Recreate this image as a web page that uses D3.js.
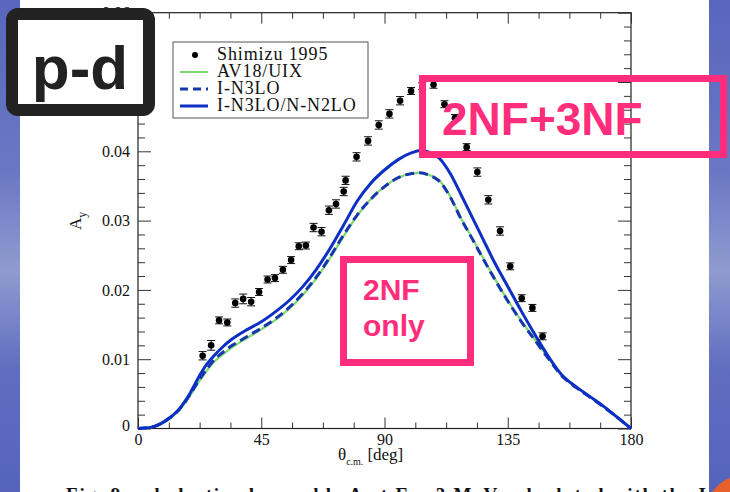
<!DOCTYPE html>
<html>
<head>
<meta charset="utf-8">
<script src="https://cdn.jsdelivr.net/npm/d3@7"></script>
<style>
  body { margin: 0; background: #fff; }
  svg { display: block; }
  .tick text { font-family: "Liberation Serif", "Times New Roman", serif; font-size: 16px; fill: #111; }
  .domain { display: none; }
</style>
</head>
<body>
<div id="chart"></div>
<script>
// Shimizu 1995 data points (theta in deg, A_y, error)
var shimizuTheta = [23.6, 26.7, 29.6, 32.6, 35.5, 38.4, 41.3, 44.2, 47.3, 50.0, 52.9, 55.9, 58.7, 61.3, 64.1, 67.0, 69.7, 72.3, 75.1, 75.8, 79.8, 84.0, 87.9, 91.8, 95.7, 99.7, 103.8, 107.9, 111.9, 115.7, 120.0, 123.9, 127.9, 132.2, 135.9, 140.1, 144.0, 147.7];
var shimizuAy    = [0.0105, 0.0120, 0.0156, 0.0153, 0.0181, 0.0187, 0.0183, 0.0197, 0.0215, 0.0217, 0.0229, 0.0243, 0.0263, 0.0264, 0.0290, 0.0284, 0.0315, 0.0324, 0.0342, 0.0358, 0.0392, 0.0415, 0.0438, 0.0454, 0.0473, 0.0487, 0.0494, 0.0496, 0.0468, 0.0448, 0.0406, 0.0370, 0.0330, 0.0285, 0.0234, 0.0188, 0.0174, 0.0133];
var shimizuErr   = [0.0006, 0.0007, 0.0005, 0.0005, 0.0006, 0.0007, 0.0006, 0.0005, 0.0005, 0.0005, 0.0005, 0.0005, 0.0005, 0.0005, 0.0006, 0.0006, 0.0006, 0.0006, 0.0006, 0.0006, 0.0006, 0.0006, 0.0006, 0.0006, 0.0006, 0.0005, 0.0005, 0.0005, 0.0005, 0.0005, 0.0005, 0.0006, 0.0006, 0.0006, 0.0005, 0.0005, 0.0005, 0.0005];

// theory curves
var curveTheta = [0, 5, 10, 15, 19, 22, 25, 28, 31, 34, 37, 40, 45, 50, 55, 60, 65, 70, 75, 80, 85, 90, 95, 100, 103, 106, 110, 114, 118, 122, 126, 130, 135, 140, 145, 150, 155, 160, 165, 170, 175, 180];
var ayN3loN2lo = [0, 0.0002, 0.0011, 0.0028, 0.0051, 0.0073, 0.0092, 0.0106, 0.0118, 0.0128, 0.0136, 0.0143, 0.0154, 0.0168, 0.0184, 0.0204, 0.0229, 0.0259, 0.0293, 0.0328, 0.0354, 0.0373, 0.0388, 0.0398, 0.0401, 0.0399, 0.0390, 0.0368, 0.0337, 0.0305, 0.0273, 0.0241, 0.0205, 0.0169, 0.0135, 0.0103, 0.0076, 0.0060, 0.0046, 0.0032, 0.0016, 0];
var ayN3lo     = [0, 0.0002, 0.0011, 0.0027, 0.0049, 0.0068, 0.0085, 0.0100, 0.0110, 0.0119, 0.0126, 0.0133, 0.0145, 0.0158, 0.0174, 0.0194, 0.0218, 0.0247, 0.0279, 0.0308, 0.0331, 0.0349, 0.0362, 0.0368, 0.0369, 0.0366, 0.0357, 0.0334, 0.0302, 0.0274, 0.0245, 0.0217, 0.0184, 0.0154, 0.0127, 0.0100, 0.0075, 0.0059, 0.0045, 0.0031, 0.0016, 0];
var ayAv18     = [0, 0.0002, 0.0010, 0.0026, 0.0047, 0.0066, 0.0083, 0.0097, 0.0107, 0.0116, 0.0124, 0.0131, 0.0143, 0.0156, 0.0172, 0.0192, 0.0216, 0.0245, 0.0277, 0.0307, 0.0331, 0.0349, 0.0362, 0.0368, 0.0369, 0.0366, 0.0358, 0.0335, 0.0303, 0.0275, 0.0246, 0.0218, 0.0185, 0.0155, 0.0128, 0.0101, 0.0076, 0.0060, 0.0046, 0.0032, 0.0017, 0];

var legendLabels = ["Shimizu 1995", "AV18/UIX", "I-N3LO", "I-N3LO/N-N2LO"];
var xTicks = [0, 45, 90, 135, 180];
var yTicks = [0, 0.01, 0.02, 0.03, 0.04, 0.05, 0.06];

var W = 730, H = 492;
var blue = "#0c2fc4", green = "#7fd870", pink = "#ff2d7b";
var serif = "'Liberation Serif', 'Times New Roman', serif";
var sans = "'Liberation Sans', Arial, sans-serif";

var svg = d3.select("#chart").append("svg")
  .attr("width", W)
  .attr("height", H);

//Slide background strips
var defs = svg.append("defs");
var grad = defs.append("linearGradient").attr("id", "bg").attr("x1", 0).attr("y1", 0).attr("x2", 0).attr("y2", 1);
[["0%", "#5866bd"], ["35%", "#6a78c4"], ["55%", "#8f9bd0"], ["75%", "#5f6ec0"], ["100%", "#5563bb"]].forEach(function(s){
  grad.append("stop").attr("offset", s[0]).attr("stop-color", s[1]);
});
svg.append("rect").attr("x", 0).attr("y", 0).attr("width", W).attr("height", H).attr("fill", "url(#bg)");
svg.append("rect").attr("x", 20).attr("y", 0).attr("width", 689).attr("height", H).attr("fill", "#fff");
svg.append("path").attr("d", "M712,492 Q722,480 730,478 L730,492 Z").attr("fill", "#e8602a");

//Scales
var x = d3.scaleLinear().domain([0, 180]).range([138, 631]);
var y = d3.scaleLinear().domain([0, 0.06]).range([428.5, 12.7]);

var minorX = d3.range(0, 181, 11.25).filter(function(d){ return d % 45 !== 0; });
var minorY = d3.range(0, 0.0601, 0.002).filter(function(d){ return Math.abs(d * 100 - Math.round(d * 100)) > 1e-6; });

//Frame
svg.append("rect")
  .attr("x", x(0)).attr("y", y(0.06))
  .attr("width", x(180) - x(0)).attr("height", y(0) - y(0.06))
  .attr("fill", "none").attr("stroke", "#222").attr("stroke-width", 1.2);

// Major axes
svg.append("g").attr("transform", "translate(0," + y(0) + ")")
  .call(d3.axisBottom(x).tickValues(xTicks).tickSizeInner(-11).tickSizeOuter(0).tickPadding(5).tickFormat(d3.format("d")));
svg.append("g").attr("transform", "translate(0," + y(0.06) + ")")
  .call(d3.axisTop(x).tickValues(xTicks).tickSizeInner(-11).tickSizeOuter(0).tickFormat(""));
svg.append("g").attr("transform", "translate(" + x(0) + ",0)")
  .call(d3.axisLeft(y).tickValues(yTicks).tickSizeInner(-13).tickSizeOuter(0).tickPadding(8)
    .tickFormat(function(d){ return d === 0 ? "0" : d3.format(".2f")(d); }));
svg.append("g").attr("transform", "translate(" + x(180) + ",0)")
  .call(d3.axisRight(y).tickValues(yTicks).tickSizeInner(-13).tickSizeOuter(0).tickFormat(""));

// Minor ticks
svg.append("g").attr("transform", "translate(0," + y(0) + ")")
  .call(d3.axisBottom(x).tickValues(minorX).tickSizeInner(-6).tickSizeOuter(0).tickFormat(""));
svg.append("g").attr("transform", "translate(0," + y(0.06) + ")")
  .call(d3.axisTop(x).tickValues(minorX).tickSizeInner(-6).tickSizeOuter(0).tickFormat(""));
svg.append("g").attr("transform", "translate(" + x(0) + ",0)")
  .call(d3.axisLeft(y).tickValues(minorY).tickSizeInner(-7).tickSizeOuter(0).tickFormat(""));
svg.append("g").attr("transform", "translate(" + x(180) + ",0)")
  .call(d3.axisRight(y).tickValues(minorY).tickSizeInner(-7).tickSizeOuter(0).tickFormat(""));

svg.selectAll(".tick line").attr("stroke", "#333");
// nudge the y "0" label like the original
svg.selectAll(".tick text").filter(function(d){ return d === 0; }).attr("dy", function(){
  return this.parentNode.parentNode.getAttribute("transform").indexOf(",0)") > 0 ? "0.15em" : "0.71em";
});

//Axis titles
var yl = svg.append("text")
  .attr("transform", "translate(81,230) rotate(-90)")
  .attr("font-family", serif).attr("font-size", 17).attr("fill", "#111");
yl.append("tspan").text("A");
yl.append("tspan").attr("font-size", 12).attr("dy", 5).text("y");

var xl = svg.append("text")
  .attr("x", 338).attr("y", 460)
  .attr("font-family", serif).attr("font-size", 17).attr("fill", "#111");
xl.append("tspan").text("θ");
xl.append("tspan").attr("font-size", 10).attr("dy", 5).text("c.m.");
xl.append("tspan").attr("dy", -5).attr("dx", 4).text("[deg]");

//Curves
var line = d3.line()
  .x(function(d, i){ return x(curveTheta[i]); })
  .y(function(d){ return y(d); })
  .curve(d3.curveMonotoneX);

svg.append("path").datum(ayAv18)
  .attr("fill", "none").attr("stroke", green).attr("stroke-width", 2.2).attr("d", line);
svg.append("path").datum(ayN3lo)
  .attr("fill", "none").attr("stroke", "#1636b0").attr("stroke-width", 3).attr("stroke-dasharray", "9,5").attr("d", line);
svg.append("path").datum(ayN3loN2lo)
  .attr("fill", "none").attr("stroke", blue).attr("stroke-width", 3).attr("d", line);

//Data points with error bars
var pts = svg.append("g").selectAll("g").data(shimizuTheta).enter().append("g")
  .attr("transform", function(d, i){ return "translate(" + x(d) + ",0)"; });
pts.append("line")
  .attr("y1", function(d, i){ return y(shimizuAy[i] - shimizuErr[i]); })
  .attr("y2", function(d, i){ return y(shimizuAy[i] + shimizuErr[i]); })
  .attr("stroke", "#111").attr("stroke-width", 1);
pts.selectAll(".cap").data(function(d, i){ return [shimizuAy[i] - shimizuErr[i], shimizuAy[i] + shimizuErr[i]]; })
  .enter().append("line")
  .attr("x1", -4).attr("x2", 4)
  .attr("y1", function(d){ return y(d); }).attr("y2", function(d){ return y(d); })
  .attr("stroke", "#111").attr("stroke-width", 1);
pts.append("circle")
  .attr("cy", function(d, i){ return y(shimizuAy[i]); })
  .attr("r", 3.3).attr("fill", "#000");

//Legend
var lg = svg.append("g");
lg.append("rect").attr("x", 173).attr("y", 42).attr("width", 195).attr("height", 76)
  .attr("fill", "#fff").attr("stroke", "#555").attr("stroke-width", 1);
var rows = lg.selectAll("g").data(legendLabels).enter().append("g")
  .attr("transform", function(d, i){ return "translate(0," + (55 + i * 17) + ")"; });
rows.append("text").attr("x", 217).attr("y", 5)
  .attr("font-family", serif).attr("font-size", 18).attr("letter-spacing", 0.9).attr("fill", "#111")
  .text(function(d){ return d; });
rows.each(function(d, i){
  var r = d3.select(this);
  if (i === 0) r.append("circle").attr("cx", 195).attr("cy", 0).attr("r", 3).attr("fill", "#000");
  else r.append("line").attr("x1", 180).attr("x2", 208)
    .attr("stroke", i === 1 ? green : (i === 2 ? "#1636b0" : blue))
    .attr("stroke-width", i === 1 ? 2 : 3)
    .attr("stroke-dasharray", i === 2 ? "8,5" : null);
});

//Caption (cut off at bottom)
svg.append("text").attr("x", 66).attr("y", 501)
  .attr("font-family", serif).attr("font-size", 19).attr("font-weight", "bold").attr("fill", "#111")
  .attr("textLength", 640)
  .text("Fig. 9   p-d elastic observable A  at E = 3 MeV calculated with the I");

//Annotation boxes
svg.append("rect").attr("x", 422.5).attr("y", 78.5).attr("width", 301).attr("height", 76)
  .attr("fill", "none").attr("stroke", pink).attr("stroke-width", 7);
svg.append("text").attr("x", 442).attr("y", 135)
  .attr("font-family", sans).attr("font-weight", "bold").attr("font-size", 46).attr("fill", pink)
  .text("2NF+3NF");

svg.append("rect").attr("x", 343.5).attr("y", 259.5).attr("width", 127).attr("height", 103)
  .attr("fill", "#fff").attr("stroke", pink).attr("stroke-width", 7);
svg.append("text").attr("x", 363).attr("y", 300)
  .attr("font-family", sans).attr("font-weight", "bold").attr("font-size", 30).attr("fill", pink)
  .text("2NF");
svg.append("text").attr("x", 363).attr("y", 336)
  .attr("font-family", sans).attr("font-weight", "bold").attr("font-size", 30).attr("fill", pink)
  .text("only");

//p-d label box
svg.append("rect").attr("x", 12).attr("y", 14).attr("width", 137).attr("height", 96).attr("rx", 6)
  .attr("fill", "#fff").attr("stroke", "#222").attr("stroke-width", 12);
svg.append("text").attr("x", 80).attr("y", 89).attr("text-anchor", "middle")
  .attr("font-family", sans).attr("font-weight", "bold").attr("font-size", 62).attr("fill", "#222")
  .text("p-d");
</script>
</body>
</html>
